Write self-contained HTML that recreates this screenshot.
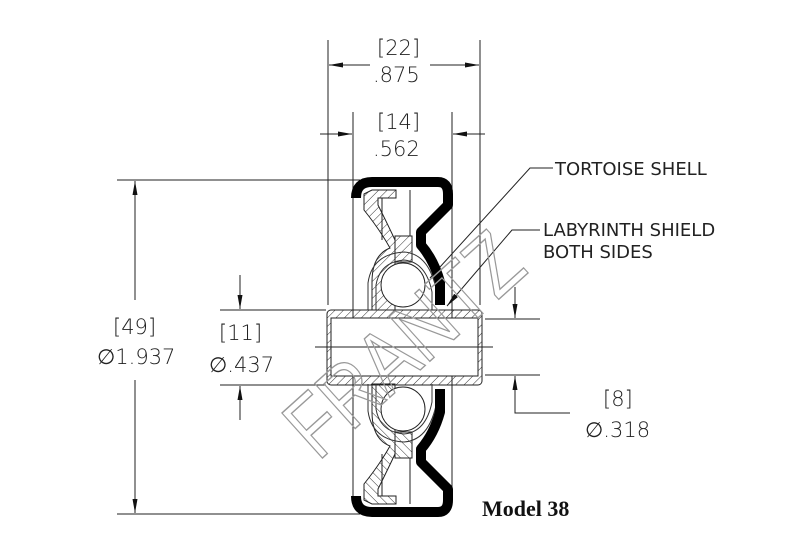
<!DOCTYPE html>
<html><head><meta charset="utf-8"><style>
html,body{margin:0;padding:0;background:#fff;}
svg{display:block}
.t{font-family:"DejaVu Sans","Liberation Sans",sans-serif;font-size:21px;fill:#222;font-weight:300}
.s{font-family:"DejaVu Sans","Liberation Sans",sans-serif;font-size:18px;fill:#222}
</style></head><body>
<svg width="809" height="542" viewBox="0 0 809 542" xmlns="http://www.w3.org/2000/svg">
<defs>
<pattern id="h" width="6" height="6" patternUnits="userSpaceOnUse" patternTransform="rotate(45)">
<line x1="0" y1="0" x2="0" y2="6" stroke="#333" stroke-width="1"/>
</pattern>
<marker id="a" markerWidth="14" markerHeight="8" refX="14" refY="4" orient="auto" markerUnits="userSpaceOnUse">
<path d="M0,1.5 L14,4 L0,6.5 Z" fill="#111"/>
</marker>
</defs>
<g stroke="#222" stroke-width="1" fill="none">
<line x1="328" y1="40" x2="328" y2="305"/>
<line x1="480" y1="40" x2="480" y2="305"/>
<line x1="353" y1="112" x2="353" y2="500"/>
<line x1="452" y1="112" x2="452" y2="500"/>
<line x1="117" y1="180" x2="360" y2="180"/>
<line x1="117" y1="514" x2="360" y2="514"/>
<line x1="220" y1="310" x2="326" y2="310"/>
<line x1="220" y1="385" x2="326" y2="385"/>
<line x1="485" y1="319" x2="540" y2="319"/>
<line x1="485" y1="375" x2="540" y2="375"/>
<line x1="370" y1="65" x2="329" y2="65" marker-end="url(#a)"/>
<line x1="430" y1="65" x2="479" y2="65" marker-end="url(#a)"/>
<line x1="320" y1="134" x2="352" y2="134" marker-end="url(#a)"/>
<line x1="485" y1="134" x2="453" y2="134" marker-end="url(#a)"/>
<line x1="135" y1="300" x2="135" y2="181" marker-end="url(#a)"/>
<line x1="135" y1="380" x2="135" y2="513" marker-end="url(#a)"/>
<line x1="240" y1="275" x2="240" y2="309" marker-end="url(#a)"/>
<line x1="240" y1="420" x2="240" y2="386" marker-end="url(#a)"/>
<line x1="515" y1="287" x2="515" y2="318" marker-end="url(#a)"/>
<polyline points="570,413 515,413 515,376" marker-end="url(#a)"/>
<polyline points="553,168 530,168 430,278" marker-end="url(#a)"/>
<polyline points="540,230 512,230 447,306" marker-end="url(#a)"/>
</g>
<rect x="327" y="310" width="155" height="75" rx="4" fill="url(#h)" stroke="#222"/>
<rect x="331" y="318" width="147" height="58" fill="#fff" stroke="#222"/>
<line x1="315" y1="347" x2="493" y2="347" stroke="#222"/>
<g id="top">
<path d="M364,194 L372,190 L396,190 L396,198 L378,198 L378,205 Q388,225 395,240 L395,310 L372,310 L372,282 Q372,255 390,248 Q380,230 364,210 Z" fill="url(#h)" stroke="#222"/>
<line x1="382" y1="198" x2="382" y2="240" stroke="#222"/>
<path d="M395,236 L412,236 L412,262 L395,262 Z" fill="url(#h)" stroke="#222"/>
<path d="M376,310 L376,285 Q380,262 404,260 Q426,262 432,292 L432,310" fill="none" stroke="#333" stroke-width="1"/>
<path d="M368,310 L368,283 Q372,254 404,252 Q432,254 438,300" fill="none" stroke="#333" stroke-width="1"/>
<circle cx="403" cy="285" r="22" fill="#fff" stroke="#222"/>
<line x1="410" y1="190" x2="410" y2="236" stroke="#222"/>
<path d="M356,198 Q356,182 372,182 L438,182 Q448,182 448,194 L448,205 L421,232 L421,245 Q434,260 440,282 L440,305" fill="none" stroke="#000" stroke-width="10" stroke-linejoin="round"/>
</g>
<use href="#top" transform="translate(0,694) scale(1,-1)"/>
<text x="0" y="0" transform="translate(318,462) rotate(-42)" font-family="Liberation Sans,sans-serif" font-size="88" fill="none" stroke="#999" stroke-width="1.4" textLength="285" lengthAdjust="spacingAndGlyphs">FRANTZ</text>
<g class="t">
<text x="377" y="55">[22]</text>
<text x="373" y="82">.875</text>
<text x="377" y="129">[14]</text>
<text x="373" y="156">.562</text>
<text x="113" y="334">[49]</text>
<text x="97" y="364">∅1.937</text>
<text x="219" y="340">[11]</text>
<text x="209" y="372">∅.437</text>
<text x="603" y="406">[8]</text>
<text x="585" y="437">∅.318</text>
</g>
<g class="s">
<text x="555" y="175">TORTOISE SHELL</text>
<text x="543" y="236">LABYRINTH SHIELD</text>
<text x="543" y="258">BOTH SIDES</text>
</g>
<text x="482" y="516" font-family="Liberation Serif,serif" font-weight="bold" font-size="22" fill="#111">Model 38</text>
</svg>
</body></html>
